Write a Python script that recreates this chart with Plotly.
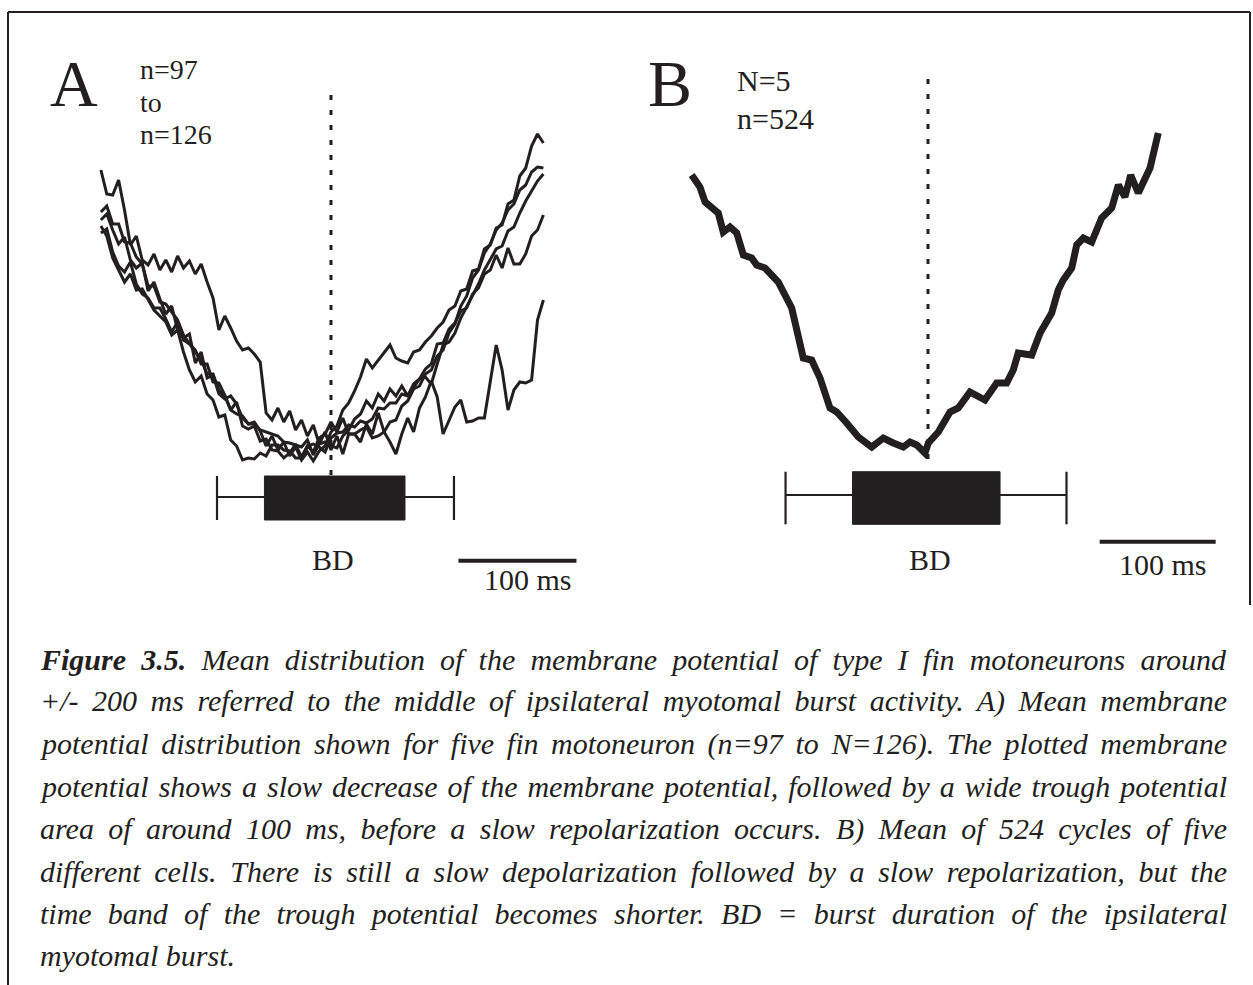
import numpy as np
import plotly.graph_objects as go

INK = "#231f20"
W, H = 1253, 985

# ---------------- data ----------------
# Panel A: five individual mean traces, sampled every 5 ms from -195 to +180 ms
t_A = np.arange(-195, 181, 5)
trace_A1 = [31.0, 28.6, 28.5, 30.0, 27.0, 23.5, 24.4, 22.0, 21.5, 22.6, 21.0, 22.0, 20.8, 22.4, 21.2, 21.9,
            20.6, 21.6, 19.8, 18.2, 15.0, 16.4, 15.2, 13.9, 13.0, 13.2, 12.6, 11.8, 6.7, 6.0, 7.2, 5.8,
            6.9, 5.0, 6.0, 4.4, 5.5, 3.6, 4.8, 3.0, 4.4, 2.6, 4.6, 4.6, 3.8, 5.6, 4.6, 6.7, 4.8, 3.8,
            2.6, 4.6, 6.2, 4.8, 7.2, 8.3, 9.9, 8.3, 4.6, 5.9, 7.3, 8.0, 5.8, 5.9, 6.2, 6.2, 9.8, 13.5,
            11.0, 7.0, 9.0, 9.8, 9.7, 10.0, 16.0, 18.0]
trace_A2 = [26.0, 26.6, 25.0, 23.6, 24.3, 22.0, 21.2, 21.7, 18.9, 19.8, 18.1, 16.6, 17.4, 15.0, 14.2, 14.6,
            11.7, 12.8, 10.2, 10.5, 8.6, 8.1, 8.4, 7.6, 6.2, 5.6, 5.8, 4.9, 3.4, 4.4, 3.0, 3.8,
            2.4, 3.3, 2.0, 2.8, 1.9, 2.9, 3.4, 4.8, 5.4, 7.0, 7.7, 8.9, 10.3, 12.1, 11.2, 12.0,
            12.7, 13.5, 12.2, 11.9, 11.7, 12.8, 13.0, 13.8, 14.4, 15.2, 15.8, 17.0, 17.4, 18.9, 19.1, 20.9,
            21.1, 23.1, 23.5, 25.2, 25.5, 27.6, 28.0, 30.4, 31.2, 33.4, 34.6, 33.7]
trace_A3 = [24.7, 25.1, 22.8, 21.4, 20.8, 21.8, 19.6, 18.6, 18.2, 17.2, 17.2, 16.1, 14.8, 15.8, 14.0, 13.6,
            13.0, 11.6, 11.6, 9.8, 9.7, 8.5, 7.0, 7.8, 5.4, 5.1, 5.4, 3.9, 4.1, 3.0, 2.9, 2.2,
            2.7, 3.6, 2.3, 3.4, 3.6, 3.3, 2.8, 4.2, 4.7, 4.8, 5.5, 5.3, 5.9, 5.7, 6.1, 7.2, 7.1, 7.7,
            7.7, 8.6, 8.4, 9.3, 10.1, 10.3, 9.6, 11.6, 13.5, 13.8, 14.7, 16.2, 17.3, 18.4, 19.6, 21.0,
            22.0, 23.1, 23.4, 24.9, 25.3, 26.7, 27.9, 28.9, 29.9, 30.6]
trace_A4 = [26.8, 27.4, 25.6, 25.6, 23.8, 23.7, 22.3, 21.6, 19.4, 19.4, 17.8, 17.6, 16.8, 16.0, 14.5, 13.6,
            12.8, 12.0, 10.6, 10.6, 9.0, 8.4, 7.0, 6.6, 6.4, 5.6, 5.6, 5.0, 4.8, 4.6, 4.4, 3.8,
            3.7, 3.5, 3.3, 4.0, 2.5, 3.6, 3.8, 3.4, 3.2, 4.4, 5.0, 6.1, 6.6, 7.9, 7.2, 8.6, 7.9, 9.1,
            8.4, 9.4, 8.4, 9.6, 10.1, 11.1, 11.6, 13.6, 13.7, 15.1, 15.7, 16.9, 17.2, 18.6, 19.2, 20.6,
            21.0, 22.5, 21.2, 23.2, 21.6, 21.6, 22.6, 24.4, 25.0, 26.5]
trace_A5 = [25.4, 24.4, 22.2, 21.0, 19.8, 20.6, 19.0, 19.1, 18.0, 17.0, 16.4, 15.8, 14.5, 15.0, 12.8, 11.0,
            9.8, 10.4, 8.6, 8.0, 6.3, 6.5, 4.0, 3.4, 2.0, 2.2, 2.1, 2.7, 2.4, 3.5, 3.5, 3.0,
            2.9, 2.2, 2.2, 3.4, 2.8, 4.2, 4.6, 5.8, 4.8, 6.2, 4.6, 4.6, 5.0, 5.3, 4.2, 4.4, 4.8, 5.8,
            6.0, 7.4, 7.9, 9.1, 9.4, 10.6, 11.0, 12.4, 13.0, 14.7, 15.6, 17.4, 18.4, 20.2, 21.0, 22.7,
            23.6, 25.0, 25.7, 27.0, 27.6, 29.0, 29.5, 30.8, 31.3, 31.2]
traces_A = [trace_A1, trace_A2, trace_A3, trace_A4, trace_A5]

# Panel B: grand mean of 524 cycles (N=5 cells)
t_B = [-203.7, -196.6, -192.2, -186.5, -180.8, -176.5, -170.7, -164.9, -159.2, -152.0, -147.7, -140.5,
       -129.1, -117.5, -107.5, -100.3, -93.1, -84.5, -78.7, -70.1, -60.1, -48.5, -38.5, -29.9, -21.3,
       -15.5, -9.7, -2.6, 0.3, 8.9, 19.0, 26.1, 36.2, 49.1, 59.2, 67.8, 73.5, 77.8, 89.4, 96.6, 106.6,
       112.3, 116.6, 123.9, 128.2, 133.9, 141.1, 149.7, 158.4, 164.1, 169.8, 174.7, 181.3, 191.4, 198.5]
v_B = [30.5, 29.3, 27.8, 27.2, 26.7, 24.8, 25.3, 24.7, 22.5, 22.2, 21.5, 21.2,
       19.8, 17.2, 12.2, 12.0, 10.2, 7.2, 6.8, 5.7, 4.3, 3.3, 4.2, 3.7, 3.3,
       3.8, 3.5, 2.7, 3.7, 4.8, 6.8, 7.2, 8.8, 8.0, 9.7, 9.7, 11.0, 12.7, 12.5, 14.7, 16.7,
       19.0, 20.0, 21.2, 23.5, 24.2, 23.8, 26.2, 27.2, 29.5, 28.3, 30.5, 28.7, 31.2, 34.7]

# Burst duration (BD) markers: mean burst [start, end] and +/- SD whiskers (ms)
bd_box_A = [-56.4, 62.7]
bd_sd_A = [-96.6, 104.2]
bd_box_B = [-65.1, 62.1]
bd_sd_B = [-122.8, 119.4]
scalebar_ms = 100
scalebar_start_A = 108
scalebar_start_B = 148

caption_lines = [
    "<b>Figure 3.5.</b> Mean distribution of the membrane potential of type I fin motoneurons around",
    "+/- 200 ms referred to the middle of ipsilateral myotomal burst activity. A) Mean membrane",
    "potential distribution shown for five fin motoneuron (n=97 to N=126). The plotted membrane",
    "potential shows a slow decrease of the membrane potential, followed by a wide trough potential",
    "area of around 100 ms, before a slow repolarization occurs. B) Mean of 524 cycles of five",
    "different cells. There is still a slow depolarization followed by a slow repolarization, but the",
    "time band of the trough potential becomes shorter. BD = burst duration of the ipsilateral",
    "myotomal burst.",
]

# ---------------- figure ----------------
fig = go.Figure()
SERIF = "Liberation Serif, Times New Roman, serif"

for tr in traces_A:
    fig.add_trace(go.Scatter(x=t_A, y=tr, mode="lines", xaxis="x", yaxis="y",
                             line=dict(color=INK, width=3), hoverinfo="skip", showlegend=False))

fig.add_trace(go.Scatter(x=t_B, y=v_B, mode="lines", xaxis="x2", yaxis="y",
                         line=dict(color=INK, width=7, shape="linear"), hoverinfo="skip", showlegend=False))

# dotted reference lines at burst middle
fig.add_trace(go.Scatter(x=[0, 0], y=[38.5, 0.5], mode="lines", xaxis="x", yaxis="y",
                         line=dict(color=INK, width=3, dash="5px,10px"), hoverinfo="skip", showlegend=False))
fig.add_trace(go.Scatter(x=[0, 0], y=[40.1, 1.8], mode="lines", xaxis="x2", yaxis="y",
                         line=dict(color=INK, width=3, dash="5px,10px"), hoverinfo="skip", showlegend=False))


def bd_marker(xa, box, sd, ytop, ybot, ymid, sbar_start, sbar_y):
    fig.add_shape(type="rect", xref=xa, yref="y", x0=box[0], x1=box[1], y0=ybot, y1=ytop,
                  fillcolor=INK, line=dict(color=INK, width=1))
    fig.add_trace(go.Scatter(x=[sd[0], box[0], None, box[1], sd[1]], y=[ymid, ymid, None, ymid, ymid],
                             mode="lines", xaxis=xa, yaxis="y", line=dict(color=INK, width=2),
                             hoverinfo="skip", showlegend=False))
    fig.add_trace(go.Scatter(x=[sd[0], sd[0], None, sd[1], sd[1]], y=[ytop, ybot, None, ytop, ybot],
                             mode="lines", xaxis=xa, yaxis="y", line=dict(color=INK, width=2.2),
                             hoverinfo="skip", showlegend=False))
    fig.add_trace(go.Scatter(x=[sbar_start, sbar_start + scalebar_ms], y=[sbar_y, sbar_y],
                             mode="lines", xaxis=xa, yaxis="y", line=dict(color=INK, width=4),
                             hoverinfo="skip", showlegend=False))


bd_marker("x", bd_box_A, bd_sd_A, 0.4, -4.0, -1.7, scalebar_start_A, -8.07)
bd_marker("x2", bd_box_B, bd_sd_B, 0.83, -4.43, -1.5, scalebar_start_B, -6.17)


def px(xp):
    return xp / W


def py(yp):
    return 1 - yp / H


def label(text, x, y, size, xanchor="left", italic=False, pad=1):
    fig.add_annotation(text=text, x=px(x), y=py(y), xref="paper", yref="paper",
                       xanchor=xanchor, yanchor="middle", align="left", showarrow=False,
                       borderpad=pad,
                       font=dict(family=SERIF, size=size, color=INK,
                                 style="italic" if italic else "normal"))


label("A", 74, 83, 66, "center")
label("n=97", 139, 70, 28, pad=0)
label("to", 139, 102.5, 28, pad=0)
label("n=126", 139, 135, 28, pad=0)
label("B", 670, 83, 66, "center")
label("N=5", 735, 80, 30)
label("n=524", 735, 119, 30)
label("BD", 333, 559, 30, "center")
label("BD", 930, 559, 30, "center")
label("100 ms", 528, 579, 30, "center")
label("100 ms", 1163, 564, 30, "center")

first_caption_idx = len(fig.layout.annotations)
for i, line in enumerate(caption_lines):
    label(line, 38, 659 + 42.4 * i, 30, "left", italic=True)
justify_idx = list(range(first_caption_idx, first_caption_idx + len(caption_lines) - 1))

# frame of the figure box (right edge stops above the caption, left edge runs to the bottom)
for (x0, y0, x1, y1) in [(8, 12, 1250, 12), (8, 12, 8, 985), (1250, 12, 1250, 605)]:
    fig.add_shape(type="line", xref="paper", yref="paper", x0=px(x0), y0=py(y0), x1=px(x1), y1=py(y1),
                  line=dict(color=INK, width=2))

fig.update_layout(
    width=W, height=H, autosize=False,
    margin=dict(l=0, r=0, t=0, b=0, pad=0),
    paper_bgcolor="white", plot_bgcolor="white",
    showlegend=False,
    xaxis=dict(domain=[0, 0.5], range=[-331 / 1.18, (626.5 - 331) / 1.18], visible=False, fixedrange=True),
    xaxis2=dict(domain=[0.5, 1], range=[(626.5 - 928) / 1.16, (1253 - 928) / 1.16], anchor="y",
                visible=False, fixedrange=True),
    yaxis=dict(domain=[0, 1], range=[-50.5, 48], visible=False, fixedrange=True),
)

post_script = """
var gd = document.getElementById('{plot_id}');
function justifyCaption(){
  var idx = JUSTIFY_IDX;
  var target = 1187;
  gd.querySelectorAll('g.annotation').forEach(function(g){
    var i = parseInt(g.getAttribute('data-index'));
    if (idx.indexOf(i) < 0) return;
    var t = g.querySelector('text.annotation-text');
    if (!t) return;
    t.style.wordSpacing = '0px';
    var w = t.getBBox().width;
    var n = (t.textContent.match(/ /g) || []).length;
    if (n > 0) { t.style.wordSpacing = ((target - w) / n) + 'px'; }
  });
}
justifyCaption();
""".replace("JUSTIFY_IDX", str(justify_idx))

fig.write_html("out.html", include_plotlyjs=True, config={"staticPlot": True}, post_script=post_script)
